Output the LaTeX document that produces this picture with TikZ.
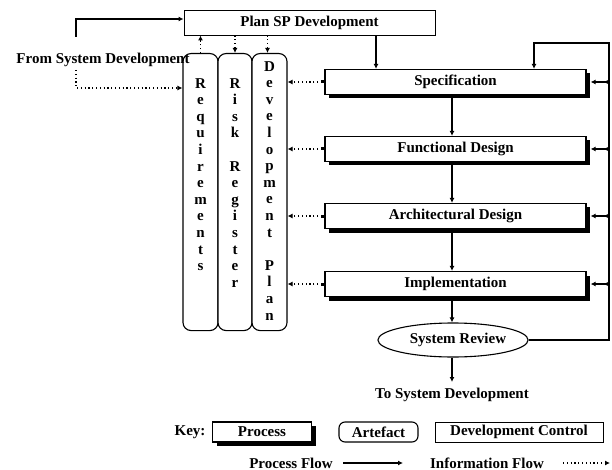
\documentclass[tikz,border=0pt]{standalone}
\usepackage{fontspec}
\setmainfont{Liberation Serif}
\usetikzlibrary{arrows.meta,shapes.geometric,shadows}
\begin{document}
\begin{tikzpicture}[x=1pt,y=-1pt,
  every node/.style={font=\fontsize{15}{16.6}\selectfont\bfseries, inner sep=0pt},
  process/.style={draw, line width=1.2pt, fill=white, minimum width=261pt, minimum height=25pt,
    drop shadow={shadow xshift=4pt, shadow yshift=-4pt, fill=black, opacity=1}},
  control/.style={draw, line width=0.9pt, fill=white},
  artefact/.style={draw, line width=1.1pt, rounded corners=8pt, fill=white},
  coltext/.style={align=center, anchor=north},
  pflow/.style={line width=1.1pt, -{Latex[length=5pt,width=5pt]}},
  iflow/.style={line width=1.1pt, dash pattern=on 1.2pt off 2.6pt, -{Latex[length=5pt,width=5pt]}},
  rlink/.style={line width=1.1pt, {Latex[length=5pt,width=5pt]}-{Circle[length=3.5pt]}},
  blink/.style={line width=1.1pt, dash pattern=on 1.2pt off 2.6pt, {Square[length=3pt,width=3pt]}-{Latex[length=5pt,width=5pt]}}
]
\useasboundingbox (0,0) rectangle (612,470);

% Plan box
\node[control, minimum width=251pt, minimum height=25pt] (plan) at (309.5,22.5) {Plan SP Development};

% artefact columns
\node[artefact, minimum width=35pt, minimum height=277pt, anchor=north] (req) at (200.5,53) {};
\node[artefact, minimum width=34pt, minimum height=277pt, anchor=north] (risk) at (235,53) {};
\node[artefact, minimum width=35pt, minimum height=277pt, anchor=north] (dev) at (269.5,53) {};
\node[coltext] (reqt) at (200.5,78) {R\\e\\q\\u\\i\\r\\e\\m\\e\\n\\t\\s};
\node[coltext] (riskt) at (235,78) {R\\i\\s\\k\\[16.6pt]R\\e\\g\\i\\s\\t\\e\\r};
\node[coltext] (devt) at (269.5,61) {D\\e\\v\\e\\l\\o\\p\\m\\e\\n\\t\\[16.6pt]P\\l\\a\\n};

% process boxes
\node[process] (spec) at (455.5,82) {Specification};
\node[process] (func) at (455.5,149) {Functional Design};
\node[process] (arch) at (455.5,216) {Architectural Design};
\node[process] (impl) at (455.5,284) {Implementation};
\node[draw, ellipse, line width=1.1pt, minimum width=120pt, minimum height=34pt] (review) at (453,340) {\hspace*{10pt}System Review};

% texts
\node (fsd) at (103,60) {From System Development};
\node (tsd) at (452,395) {To System Development};

% coordinates
\coordinate (p1) at (376,0);
\coordinate (fx) at (452,0);
\coordinate (rl) at (609,43);
\coordinate (lp) at (534,43);
\coordinate (a1) at (76,37);
\coordinate (a2) at (76,19);
\coordinate (b1) at (76,70);
\coordinate (b2) at (76,88);
\coordinate (down) at (452,382);

% process flows
\draw[pflow] (plan.south -| p1) -- (spec.north -| p1);
\draw[pflow] (spec.south -| fx) -- (func.north -| fx);
\draw[pflow] (func.south -| fx) -- (arch.north -| fx);
\draw[pflow] (arch.south -| fx) -- (impl.north -| fx);
\draw[pflow] (impl.south -| fx) -- (review.north -| fx);
\draw[pflow] (review.south -| fx) -- (down);
\draw[pflow] (review.east) -| (rl) -- (lp) -- (spec.north -| lp);
\draw[pflow] (a1) -- (a2) -- (a2 -| plan.west);
\draw[iflow] (b1) -- (b2) -- (b2 -| req.west);

% right side links
\foreach \n in {spec,func,arch,impl}
  \draw[rlink] ([xshift=4pt]\n.east) -- (\n.east -| rl);

% info flows to development plan
\foreach \n in {spec,func,arch,impl}
  \draw[blink] (\n.west) -- (\n.west -| dev.east);

% info flows between plan and artefacts
\draw[iflow] (req.north) -- (req.north |- plan.south);
\draw[iflow] (risk.north |- plan.south) -- (risk.north);
\draw[iflow] ([xshift=-2pt]dev.north |- plan.south) -- ([xshift=-2pt]dev.north);

% key
\node (key) at (190,432) {Key:};
\node[process, minimum width=99pt, minimum height=20pt] (kp) at (262,432) {Process};
\node[artefact, minimum width=79pt, minimum height=20pt, rounded corners=6pt] (ka) at (378.5,432) {Artefact};
\node[control, minimum width=168pt, minimum height=20pt] (kc) at (519,432) {Development Control};
\node (kpf) at (291,463) {Process Flow};
\node (kif) at (487,463) {Information Flow};
\coordinate (k1) at (343,463);
\coordinate (k2) at (403,463);
\coordinate (k3) at (563,463);
\coordinate (k4) at (610,463);
\draw[pflow] (k1) -- (k2);
\draw[iflow] (k3) -- (k4);
\end{tikzpicture}
\end{document}
